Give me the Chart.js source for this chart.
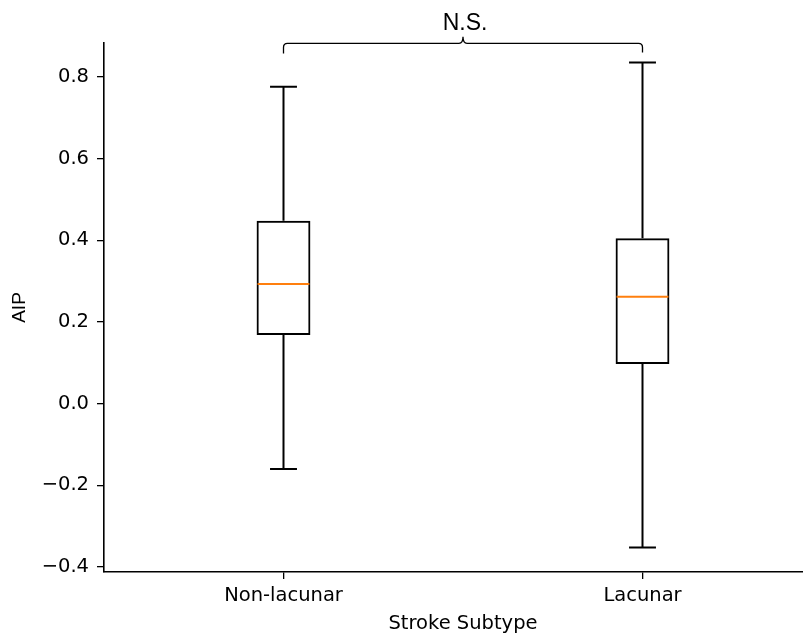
<!DOCTYPE html>
<html>
<head>
<meta charset="utf-8">
<script src="https://cdn.jsdelivr.net/npm/chart.js@4.4.1/dist/chart.umd.min.js"></script>
<style>
    html, body { margin: 0; padding: 0; background: #fff; overflow: hidden; }
    #wrap { width: 822px; height: 636px; }
</style>
</head>
<body>
<div id="wrap"><canvas id="boxChart" width="822" height="636"></canvas></div>
<script>
'use strict';

// Dados do boxplot
const categorias = ['Non-lacunar', 'Lacunar'];
const whiskerMin = [-0.160, -0.352];
const q1 = [0.168, 0.097];
const mediana = [0.293, 0.262];
const q3 = [0.448, 0.405];
const whiskerMax = [0.776, 0.835];
const yTicks = [-0.4, -0.2, 0.0, 0.2, 0.4, 0.6, 0.8];
const rotuloSignificancia = 'N.S.';

const larguraCaixa = 0.15; // largura da caixa em unidades de x
const corMediana = '#ff7f0e';

// Formata os ticks com sinal de menos tipográfico
function formatarTick(v) {
    if (Math.abs(v) < 1e-9) return '0.0';
    return v.toFixed(1).replace('-', '\u2212');
}

// Bigodes, medianas e colchete de significância
const boxplotPlugin = {
    id: 'boxplotExtras',
    afterDatasetsDraw(chart) {
        const ctx = chart.ctx;
        const x = chart.scales.x;
        const y = chart.scales.y;
        ctx.save();
        ctx.lineCap = 'butt';
        categorias.forEach((c, i) => {
            const cx = x.getPixelForValue(i + 1);
            const meia = x.getPixelForValue(i + 1 + larguraCaixa / 2) - cx;
            const cap = meia / 2;

            ctx.strokeStyle = '#000';
            ctx.lineWidth = 2;
            ctx.beginPath();
            ctx.moveTo(cx, y.getPixelForValue(q3[i]));
            ctx.lineTo(cx, y.getPixelForValue(whiskerMax[i]));
            ctx.moveTo(cx, y.getPixelForValue(q1[i]));
            ctx.lineTo(cx, y.getPixelForValue(whiskerMin[i]));
            ctx.moveTo(cx - cap, y.getPixelForValue(whiskerMax[i]));
            ctx.lineTo(cx + cap, y.getPixelForValue(whiskerMax[i]));
            ctx.moveTo(cx - cap, y.getPixelForValue(whiskerMin[i]));
            ctx.lineTo(cx + cap, y.getPixelForValue(whiskerMin[i]));
            ctx.stroke();

            ctx.strokeStyle = corMediana;
            ctx.beginPath();
            ctx.moveTo(cx - meia + 1, y.getPixelForValue(mediana[i]));
            ctx.lineTo(cx + meia - 1, y.getPixelForValue(mediana[i]));
            ctx.stroke();
        });

        // Colchete N.S.
        const xa = x.getPixelForValue(1);
        const xb = x.getPixelForValue(2);
        const xm = (xa + xb) / 2;
        const yBase = y.getPixelForValue(0.857);
        const yBar = y.getPixelForValue(0.882);
        const yPico = y.getPixelForValue(0.898);
        const r = 4;
        ctx.strokeStyle = '#000';
        ctx.lineWidth = 1.3;
        ctx.beginPath();
        ctx.moveTo(xa, yBase);
        ctx.lineTo(xa, yBar + r);
        ctx.quadraticCurveTo(xa, yBar, xa + r, yBar);
        ctx.lineTo(xm - r, yBar);
        ctx.quadraticCurveTo(xm, yBar, xm, yPico);
        ctx.quadraticCurveTo(xm, yBar, xm + r, yBar);
        ctx.lineTo(xb - r, yBar);
        ctx.quadraticCurveTo(xb, yBar, xb, yBar + r);
        ctx.lineTo(xb, yBase - 1);
        ctx.stroke();

        ctx.fillStyle = '#000';
        ctx.font = '23px "Liberation Sans", Arial, sans-serif';
        ctx.textAlign = 'center';
        ctx.textBaseline = 'alphabetic';
        ctx.fillText(rotuloSignificancia, xm + 2, yPico - 7);
        ctx.restore();
    },
};

const ctx = document.getElementById('boxChart').getContext('2d');
const boxChart = new Chart(ctx, {
    type: 'bar',
    data: {
        datasets: [
            {
                label: 'IQR',
                data: categorias.map((c, i) => ({ x: i + 1, y: [q1[i], q3[i]] })),
                backgroundColor: 'rgba(0, 0, 0, 0)',
                borderColor: '#000',
                borderWidth: 2,
                borderSkipped: false,
                categoryPercentage: 1,
                barPercentage: larguraCaixa,
            },
        ],
    },
    options: {
        responsive: false,
        animation: false,
        devicePixelRatio: 1,
        layout: {
            padding: { top: 43, left: 0, right: 0, bottom: 0 },
        },
        plugins: {
            legend: { display: false },
            tooltip: { enabled: false },
        },
        scales: {
            x: {
                type: 'linear',
                min: 0.5,
                max: 2.5,
                offset: false,
                afterBuildTicks: (scale) => {
                    scale.ticks = categorias.map((c, i) => ({ value: i + 1 }));
                },
                afterFit: (scale) => {
                    scale.height = 64;
                },
                grid: {
                    display: true,
                    offset: false,
                    drawOnChartArea: false,
                    drawTicks: true,
                    tickLength: 7,
                    color: '#000',
                    lineWidth: 1.3,
                },
                border: { display: true, color: '#000', width: 1.6 },
                ticks: {
                    color: '#000',
                    padding: 5,
                    maxRotation: 0,
                    font: { family: '"DejaVu Sans"', size: 19.5 },
                    callback: (v) => categorias[Math.round(v) - 1] || '',
                },
                title: {
                    display: true,
                    text: 'Stroke Subtype',
                    color: '#000',
                    padding: { top: 0, bottom: 0 },
                    font: { family: '"DejaVu Sans"', size: 19.5 },
                },
            },
            y: {
                min: -0.412,
                max: 0.883,
                afterBuildTicks: (scale) => {
                    scale.ticks = yTicks.map((v) => ({ value: v }));
                },
                afterFit: (scale) => {
                    scale.width = 104;
                },
                grid: {
                    display: true,
                    drawOnChartArea: false,
                    drawTicks: true,
                    tickLength: 7,
                    color: '#000',
                    lineWidth: 1.3,
                },
                border: { display: true, color: '#000', width: 1.6 },
                ticks: {
                    color: '#000',
                    padding: 8,
                    font: { family: '"DejaVu Sans"', size: 19.5 },
                    callback: (v) => formatarTick(v),
                },
                title: {
                    display: true,
                    text: 'AIP',
                    color: '#000',
                    padding: { top: 8, bottom: 0 },
                    font: { family: '"Liberation Sans"', size: 19 },
                },
            },
        },
    },
    plugins: [boxplotPlugin],
});
</script>
</body>
</html>
